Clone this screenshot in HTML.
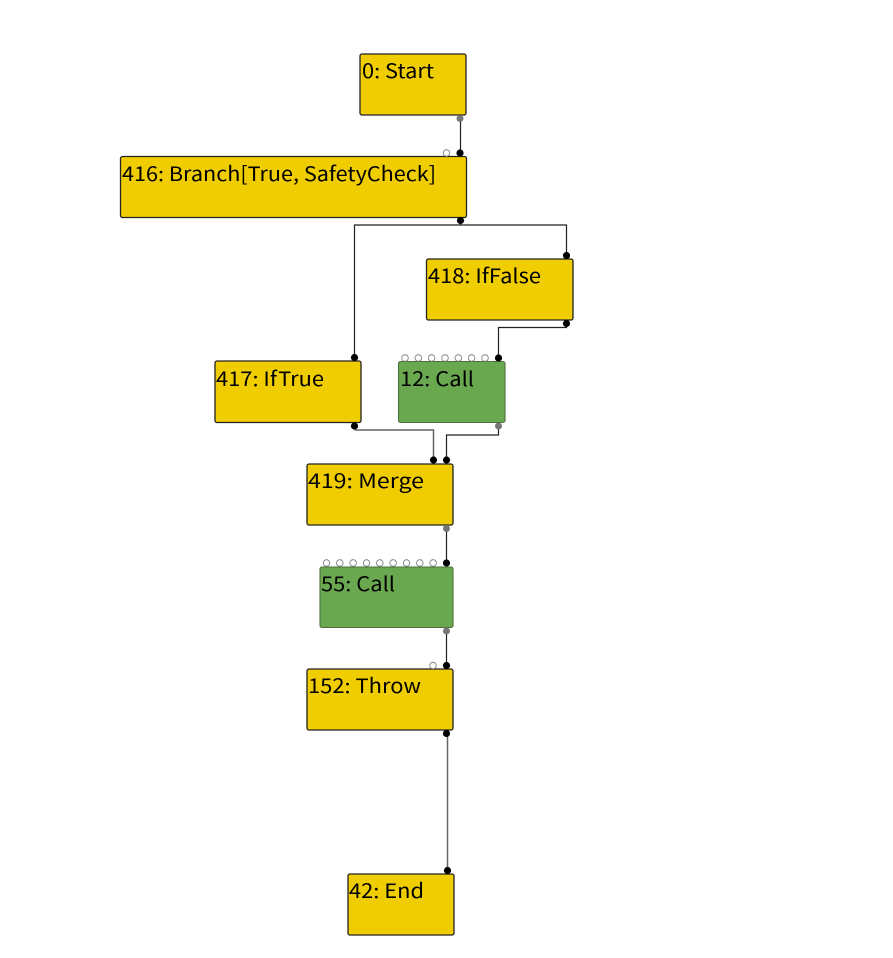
<!DOCTYPE html>
<html><head><meta charset="utf-8"><style>
html,body{margin:0;padding:0;background:#fff;width:893px;height:958px;overflow:hidden}
svg{display:block}
text{font-family:"Noto Sans CJK SC","Liberation Sans",sans-serif;font-size:20px;fill:#000}
.y{fill:#f0cd00;stroke:#222;stroke-width:1.3}
.g{fill:#6aa84f;stroke:#4d6f3f;stroke-width:1.1}
.o{fill:#fff;stroke:#777;stroke-width:.8}
.k{fill:#000}
.d{fill:#777}
.l{fill:none;stroke:#222;stroke-width:1.2}
.m{fill:none;stroke:#666;stroke-width:1.5}
</style></head><body>
<svg width="893" height="958" viewBox="0 0 893 958" xmlns="http://www.w3.org/2000/svg">
<path class="l" d="M460.500 118V153"/>
<path class="l" d="M460.500 221V225H566.500V255M460.500 225H354.500V357"/>
<path class="l" d="M566.500 324V327.500H498.500V357"/>
<path class="m" d="M354.500 430H433.500V460"/>
<path class="l" d="M498.500 426V435H446.500V460"/>
<path class="l" d="M446.500 528V563"/>
<path class="l" d="M446.500 631V665"/>
<path class="m" d="M447.500 733V870"/>
<rect class="y" x="360" y="54" width="106" height="61" rx="2"/>
<rect class="y" x="120.500" y="156.500" width="346" height="61" rx="2"/>
<rect class="y" x="426.500" y="259" width="146.500" height="61" rx="2"/>
<rect class="y" x="215" y="361" width="146" height="61.500" rx="2"/>
<rect class="g" x="398.500" y="361.500" width="106.500" height="61" rx="2"/>
<rect class="y" x="307" y="464" width="146" height="61" rx="2"/>
<rect class="g" x="320" y="567" width="133" height="60.500" rx="2"/>
<rect class="y" x="307" y="669" width="146" height="61" rx="2"/>
<rect class="y" x="348" y="874" width="106" height="61" rx="2"/>
<text x="362" y="78" textLength="72" lengthAdjust="spacingAndGlyphs">0: Start</text>
<text x="122" y="181" textLength="314" lengthAdjust="spacingAndGlyphs">416: Branch[True, SafetyCheck]</text>
<text x="428" y="283" textLength="113" lengthAdjust="spacingAndGlyphs">418: IfFalse</text>
<text x="216" y="386" textLength="108" lengthAdjust="spacingAndGlyphs">417: IfTrue</text>
<text x="400" y="386" textLength="74" lengthAdjust="spacingAndGlyphs">12: Call</text>
<text x="308" y="488" textLength="116" lengthAdjust="spacingAndGlyphs">419: Merge</text>
<text x="321" y="591" textLength="74" lengthAdjust="spacingAndGlyphs">55: Call</text>
<text x="308" y="693" textLength="113" lengthAdjust="spacingAndGlyphs">152: Throw</text>
<text x="349" y="898" textLength="75" lengthAdjust="spacingAndGlyphs">42: End</text>
<circle class="d" cx="460" cy="118.500" r="3.500"/>
<circle class="o" cx="446.500" cy="153" r="3.300"/><circle class="k" cx="460" cy="153" r="3.600"/>
<circle class="k" cx="460.500" cy="220.500" r="3.600"/>
<circle class="k" cx="566.500" cy="255.500" r="3.600"/>
<circle class="k" cx="566.500" cy="323.500" r="3.600"/>
<circle class="k" cx="354.500" cy="357.500" r="3.600"/>
<circle class="k" cx="354.500" cy="426" r="3.600"/>
<circle class="o" cx="405" cy="358" r="3.300"/><circle class="o" cx="418.300" cy="358" r="3.300"/><circle class="o" cx="431.600" cy="358" r="3.300"/><circle class="o" cx="445" cy="358" r="3.300"/><circle class="o" cx="458.300" cy="358" r="3.300"/><circle class="o" cx="471.600" cy="358" r="3.300"/><circle class="o" cx="485" cy="358" r="3.300"/><circle class="k" cx="498.500" cy="358" r="3.600"/>
<circle class="d" cx="498.500" cy="426" r="3.500"/>
<circle class="k" cx="433.500" cy="460" r="3.600"/><circle class="k" cx="446.500" cy="460" r="3.600"/>
<circle class="d" cx="446.500" cy="528.500" r="3.500"/>
<circle class="o" cx="326.500" cy="563" r="3.300"/><circle class="o" cx="339.800" cy="563" r="3.300"/><circle class="o" cx="353.100" cy="563" r="3.300"/><circle class="o" cx="366.500" cy="563" r="3.300"/><circle class="o" cx="379.800" cy="563" r="3.300"/><circle class="o" cx="393.100" cy="563" r="3.300"/><circle class="o" cx="406.500" cy="563" r="3.300"/><circle class="o" cx="419.800" cy="563" r="3.300"/><circle class="o" cx="433.100" cy="563" r="3.300"/><circle class="k" cx="446.500" cy="563" r="3.600"/>
<circle class="d" cx="446.500" cy="631" r="3.500"/>
<circle class="o" cx="433" cy="665.500" r="3.300"/><circle class="k" cx="446.500" cy="665.500" r="3.600"/>
<circle class="k" cx="446.500" cy="733.500" r="3.600"/>
<circle class="k" cx="447.500" cy="870.500" r="3.600"/>
</svg>
</body></html>
